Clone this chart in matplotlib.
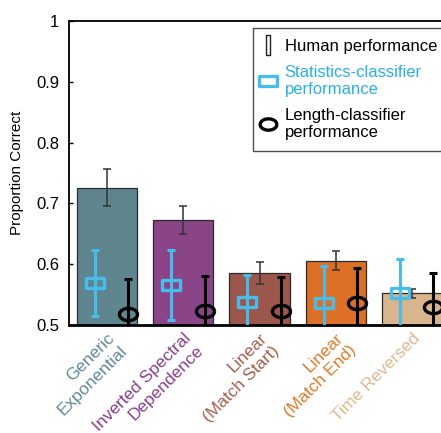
import matplotlib
matplotlib.use('Agg')
import matplotlib.pyplot as plt
import numpy as np
from matplotlib.path import Path
from matplotlib.lines import Line2D

plt.rcParams['font.family'] = ['Liberation Sans', 'DejaVu Sans']

# Condition names and colours
conditions = ['Generic\nExponential', 'Inverted Spectral\nDependence',
              'Linear\n(Match Start)', 'Linear\n(Match End)', 'Time Reversed']
bar_colors = ['#5f858f', '#8a4589', '#9c574c', '#dc7027', '#d8b58c']
label_colors = ['#5f8a95', '#8a3e8a', '#a55e50', '#e07a2a', '#dcb990']

# Human performance (bars) with error
human_mean = [0.726, 0.672, 0.585, 0.606, 0.552]
human_err = [0.031, 0.023, 0.018, 0.016, 0.008]

# Statistics-classifier performance
stats_mean = [0.569, 0.566, 0.538, 0.537, 0.552]
stats_err = [0.055, 0.058, 0.044, 0.060, 0.057]

# Length-classifier performance
length_mean = [0.518, 0.523, 0.523, 0.537, 0.529]
length_err = [0.057, 0.057, 0.056, 0.056, 0.057]

cyan = '#48bdec'

# custom markers: flat rectangle, ellipse, tall rectangle
rect_marker = Path([(-1, -0.6), (1, -0.6), (1, 0.6), (-1, 0.6), (-1, -0.6)],
                   [Path.MOVETO, Path.LINETO, Path.LINETO, Path.LINETO, Path.CLOSEPOLY])
t = np.linspace(0, 2 * np.pi, 60)
ellipse_marker = Path(np.column_stack([np.cos(t), 0.68 * np.sin(t)]))
tall_marker = Path([(-0.21, -1), (0.21, -1), (0.21, 1), (-0.21, 1), (-0.21, -1)],
                   [Path.MOVETO, Path.LINETO, Path.LINETO, Path.LINETO, Path.CLOSEPOLY])

fig = plt.figure(figsize=(4.41, 4.33), dpi=100)
ax = fig.add_axes([69 / 441, 1 - 325 / 433, 381 / 441, 304 / 433])

x = np.arange(1, len(conditions) + 1)
ax.bar(x, human_mean, width=0.79, color=bar_colors, edgecolor='#2a2a2a',
       linewidth=0.9, zorder=1)
ax.errorbar(x, human_mean, yerr=human_err, fmt='none', ecolor='#333333',
            elinewidth=1.1, capsize=3, capthick=1.1, zorder=3)

xs = x - 0.16
ax.errorbar(xs, stats_mean, yerr=stats_err, fmt='none', ecolor=cyan,
            elinewidth=2.2, capsize=3, capthick=2.2, zorder=4)
ax.plot(xs, stats_mean, linestyle='none', marker=rect_marker, markersize=12.5,
        markerfacecolor='none', markeredgecolor=cyan, markeredgewidth=2.4, zorder=5)

xl = x + 0.28
ax.errorbar(xl, length_mean, yerr=length_err, fmt='none', ecolor='black',
            elinewidth=2.2, capsize=3, capthick=2.2, zorder=4)
ax.plot(xl, length_mean, linestyle='none', marker=ellipse_marker, markersize=13,
        markerfacecolor='none', markeredgecolor='black', markeredgewidth=2.4, zorder=5)

ax.set_xlim(0.5, 5.5)
ax.set_ylim(0.5, 1.0)
ax.set_yticks([0.5, 0.6, 0.7, 0.8, 0.9, 1.0])
ax.set_yticklabels(['0.5', '0.6', '0.7', '0.8', '0.9', '1'], fontsize=12)
ax.tick_params(axis='y', direction='in', length=3, width=1, pad=7)
ax.set_ylabel('Proportion Correct', fontsize=11, labelpad=9)

ax.set_xticks(x)
ax.set_xticklabels(conditions, rotation=45, ha='right', va='top',
                   rotation_mode='anchor', fontsize=12.5)
for lbl, c in zip(ax.get_xticklabels(), label_colors):
    lbl.set_color(c)
ax.tick_params(axis='x', length=0, pad=4)

for side in ['top', 'left']:
    ax.spines[side].set_linewidth(1.3)
ax.spines['bottom'].set_linewidth(2)
ax.spines['right'].set_visible(False)

handles = [
    Line2D([], [], linestyle='none', marker=tall_marker, markersize=14,
           markerfacecolor='white', markeredgecolor='#222222', markeredgewidth=1),
    Line2D([], [], linestyle='none', marker=rect_marker, markersize=12.5,
           markerfacecolor='none', markeredgecolor=cyan, markeredgewidth=2.4),
    Line2D([], [], linestyle='none', marker=ellipse_marker, markersize=12,
           markerfacecolor='none', markeredgecolor='black', markeredgewidth=2.4),
]
labels = ['Human performance', 'Statistics-classifier\nperformance',
          'Length-classifier\nperformance']
leg = ax.legend(handles, labels, loc='upper left', bbox_to_anchor=(0.483, 0.977),
                fontsize=12, frameon=True, fancybox=False, handlelength=0.5,
                handletextpad=0.75, borderpad=0.65, labelspacing=0.65,
                borderaxespad=0)
leg.get_frame().set_edgecolor('#222222')
leg.get_frame().set_linewidth(1)
leg.get_texts()[1].set_color('#2aaee6')

plt.savefig('out.png', dpi=100)
